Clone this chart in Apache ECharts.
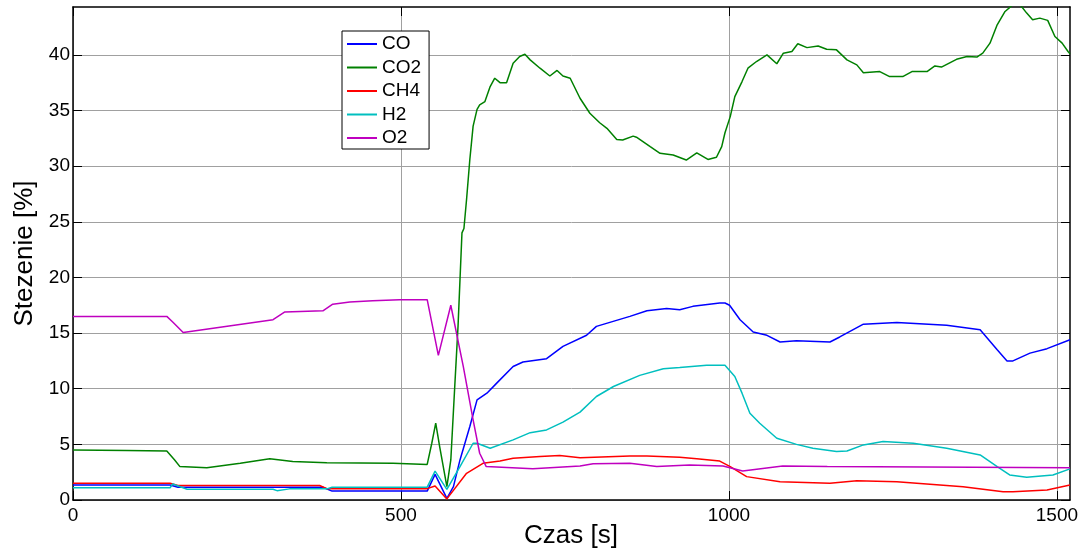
<!DOCTYPE html>
<html>
<head>
<meta charset="utf-8">
<script src="https://cdn.jsdelivr.net/npm/echarts@6/dist/echarts.min.js"></script>
<style>
  html, body { margin: 0; padding: 0; background: #fff; }
  #chart { width: 1085px; height: 552px; }
</style>
</head>
<body>
<div id="chart"></div>
<script>
// dane: [czas s, stezenie %]
var seriesNames = ['CO', 'CO2', 'CH4', 'H2', 'O2'];
var seriesColors = ['#0000ff', '#008000', '#ff0000', '#00bfbf', '#bf00bf'];

var co = [[0,1.35],[148,1.35],[160,1.15],[381,1.15],[395,0.8],[540,0.8],[552,2.3],[570,0.15],[580,1.2],[590,3.6],[605,6.6],[616,9.0],[631,9.6],[646,10.5],[671,12.0],[686,12.4],[722,12.7],[747,13.8],[783,14.8],[798,15.6],[849,16.5],[875,17.0],[905,17.2],[925,17.1],[945,17.4],[986,17.7],[994,17.7],[1001,17.5],[1017,16.2],[1037,15.1],[1058,14.8],[1078,14.2],[1103,14.3],[1154,14.2],[1169,14.65],[1205,15.8],[1256,15.95],[1332,15.7],[1383,15.3],[1409,13.5],[1424,12.5],[1433,12.5],[1459,13.2],[1485,13.6],[1520,14.4]];

var co2 = [[0,4.5],[82,4.45],[143,4.4],[155,3.6],[163,3.0],[204,2.9],[255,3.3],[300,3.7],[335,3.45],[387,3.35],[488,3.3],[540,3.2],[547,5.1],[553,6.9],[559,4.8],[570,1.2],[576,3.6],[582,10.2],[587,15.6],[590,19.8],[593,24.0],[596,24.4],[600,27.0],[605,30.6],[610,33.6],[616,35.1],[620,35.5],[628,35.8],[636,37.15],[643,37.9],[651,37.5],[661,37.5],[671,39.25],[681,39.85],[689,40.05],[697,39.55],[712,38.8],[727,38.1],[738,38.6],[747,38.1],[758,37.9],[773,36.1],[788,34.75],[803,33.9],[814,33.4],[829,32.4],[838,32.35],[854,32.7],[859,32.6],[880,31.75],[895,31.15],[915,31.0],[935,30.55],[951,31.2],[968,30.6],[981,30.8],[989,31.75],[994,33.0],[1002,34.45],[1009,36.25],[1020,37.6],[1029,38.8],[1042,39.4],[1058,40.0],[1073,39.2],[1083,40.15],[1096,40.3],[1105,41.0],[1119,40.65],[1136,40.8],[1149,40.5],[1164,40.45],[1180,39.55],[1195,39.1],[1205,38.4],[1230,38.5],[1245,38.05],[1265,38.05],[1279,38.5],[1302,38.5],[1314,39.0],[1324,38.9],[1347,39.6],[1363,39.85],[1378,39.8],[1387,40.15],[1398,41.05],[1409,42.7],[1421,43.9],[1433,44.5],[1444,44.5],[1454,43.75],[1463,43.15],[1474,43.3],[1486,43.1],[1497,41.65],[1508,41.05],[1517,40.3],[1520,40.1]];

var ch4 = [[0,1.5],[148,1.5],[160,1.3],[376,1.3],[387,1.02],[540,1.02],[552,1.26],[570,0.1],[600,2.4],[625,3.3],[651,3.5],[671,3.75],[712,3.9],[742,4.0],[773,3.8],[849,3.95],[875,3.95],[925,3.85],[951,3.7],[986,3.5],[1002,3.0],[1027,2.1],[1078,1.65],[1154,1.5],[1195,1.74],[1256,1.65],[1357,1.2],[1418,0.75],[1433,0.75],[1485,0.9],[1520,1.35]];

var h2 = [[0,1.1],[148,1.1],[152,1.44],[174,0.96],[305,0.96],[311,0.84],[330,1.0],[387,1.0],[395,1.14],[540,1.15],[552,2.6],[570,0.96],[590,3.0],[610,5.1],[616,5.1],[636,4.65],[671,5.4],[697,6.05],[722,6.3],[747,7.0],[773,7.9],[798,9.3],[824,10.2],[864,11.2],[900,11.8],[925,11.9],[966,12.1],[994,12.1],[1009,11.1],[1020,9.6],[1032,7.8],[1047,6.9],[1073,5.55],[1103,5.0],[1128,4.65],[1164,4.35],[1180,4.4],[1205,4.95],[1235,5.25],[1281,5.1],[1332,4.65],[1383,4.05],[1409,3.0],[1428,2.25],[1454,2.05],[1494,2.25],[1520,2.8]];

var o2 = [[0,16.5],[143,16.5],[152,16.0],[168,15.05],[305,16.2],[323,16.9],[381,17.0],[396,17.6],[422,17.8],[457,17.9],[498,18.0],[540,18.0],[557,13.0],[576,17.5],[595,12.0],[610,7.2],[620,4.2],[630,3.0],[701,2.8],[773,3.05],[793,3.25],[849,3.3],[890,3.0],[940,3.15],[991,3.05],[1021,2.6],[1082,3.05],[1150,3.0],[1520,2.9]];

var seriesData = [co, co2, ch4, h2, o2];

var xMin = 0, xMax = 1520, xStep = 500;
var yMin = 0, yMax = 44.3, yStep = 5;
var xTicks = [0, 500, 1000, 1500];
var yTicks = [0, 5, 10, 15, 20, 25, 30, 35, 40];

var myChart = echarts.init(document.getElementById('chart'));

var labelFont = 'Liberation Sans, Arial, sans-serif';
var gridLine = { show: true, lineStyle: { color: '#a0a0a0', width: 1, type: 'solid' } };
var blackLine = { show: true, onZero: false, lineStyle: { color: '#000', width: 1.5 } };
function ticksIn(vals) {
    return { show: true, inside: true, length: 9, customValues: vals, lineStyle: { color: '#000', width: 1 } };
}
function plain(v) { return String(v); }

var series = [];
for (var i = 0; i < seriesNames.length; i++) {
    series.push({
        name: seriesNames[i],
        type: 'line',
        data: seriesData[i],
        symbol: 'none',
        smooth: false,
        clip: true,
        lineStyle: { color: seriesColors[i], width: 1.5 },
        itemStyle: { color: seriesColors[i] },
        animation: false,
        z: 3
    });
}

var legendData = [];
for (var j = 0; j < seriesNames.length; j++) {
    legendData.push({ name: seriesNames[j], icon: 'rect', itemStyle: { color: seriesColors[j] } });
}

var option = {
    backgroundColor: '#fff',
    animation: false,
    // podpis osi X jako tytul, zeby stal dokladnie pod wykresem
    title: {
        text: 'Czas [s]',
        left: 571,
        top: 523,
        textAlign: 'center',
        padding: 0,
        textStyle: { fontFamily: labelFont, fontSize: 26, fontWeight: 'normal', color: '#000' }
    },
    grid: { left: 73, right: 15, top: 7, bottom: 52, show: false, outerBoundsMode: 'none', containLabel: false },
    legend: {
        data: legendData,
        orient: 'vertical',
        left: 342,
        top: 31,
        padding: [3, 8, 1, 5],
        itemGap: 3.5,
        itemWidth: 30,
        itemHeight: 2,
        backgroundColor: '#fff',
        borderColor: '#000',
        borderWidth: 1,
        borderRadius: 0,
        textStyle: { fontFamily: labelFont, fontSize: 19, color: '#000', lineHeight: 20 },
        z: 10
    },
    xAxis: [{
        type: 'value',
        min: xMin, max: xMax, interval: xStep,
        axisLine: blackLine,
        axisTick: ticksIn(xTicks),
        splitLine: gridLine,
        axisLabel: {
            margin: 6,
            customValues: xTicks,
            formatter: plain,
            fontFamily: labelFont, fontSize: 19, color: '#000'
        }
    }, {
        type: 'value', position: 'top',
        min: xMin, max: xMax, interval: xStep,
        axisLine: blackLine, axisTick: ticksIn(xTicks),
        axisLabel: { show: false }, splitLine: { show: false }
    }],
    yAxis: [{
        type: 'value',
        min: yMin, max: yMax, interval: yStep,
        name: 'Stezenie [%]',
        nameLocation: 'middle',
        nameGap: 33,
        nameTextStyle: { fontFamily: labelFont, fontSize: 26, color: '#000' },
        axisLine: blackLine,
        axisTick: ticksIn(yTicks),
        splitLine: gridLine,
        axisLabel: {
            margin: 3,
            customValues: yTicks,
            formatter: plain,
            fontFamily: labelFont, fontSize: 19, color: '#000'
        }
    }, {
        type: 'value', position: 'right',
        min: yMin, max: yMax, interval: yStep,
        axisLine: blackLine, axisTick: ticksIn(yTicks),
        axisLabel: { show: false }, splitLine: { show: false }
    }],
    series: series
};
myChart.setOption(option);
</script>
</body>
</html>
